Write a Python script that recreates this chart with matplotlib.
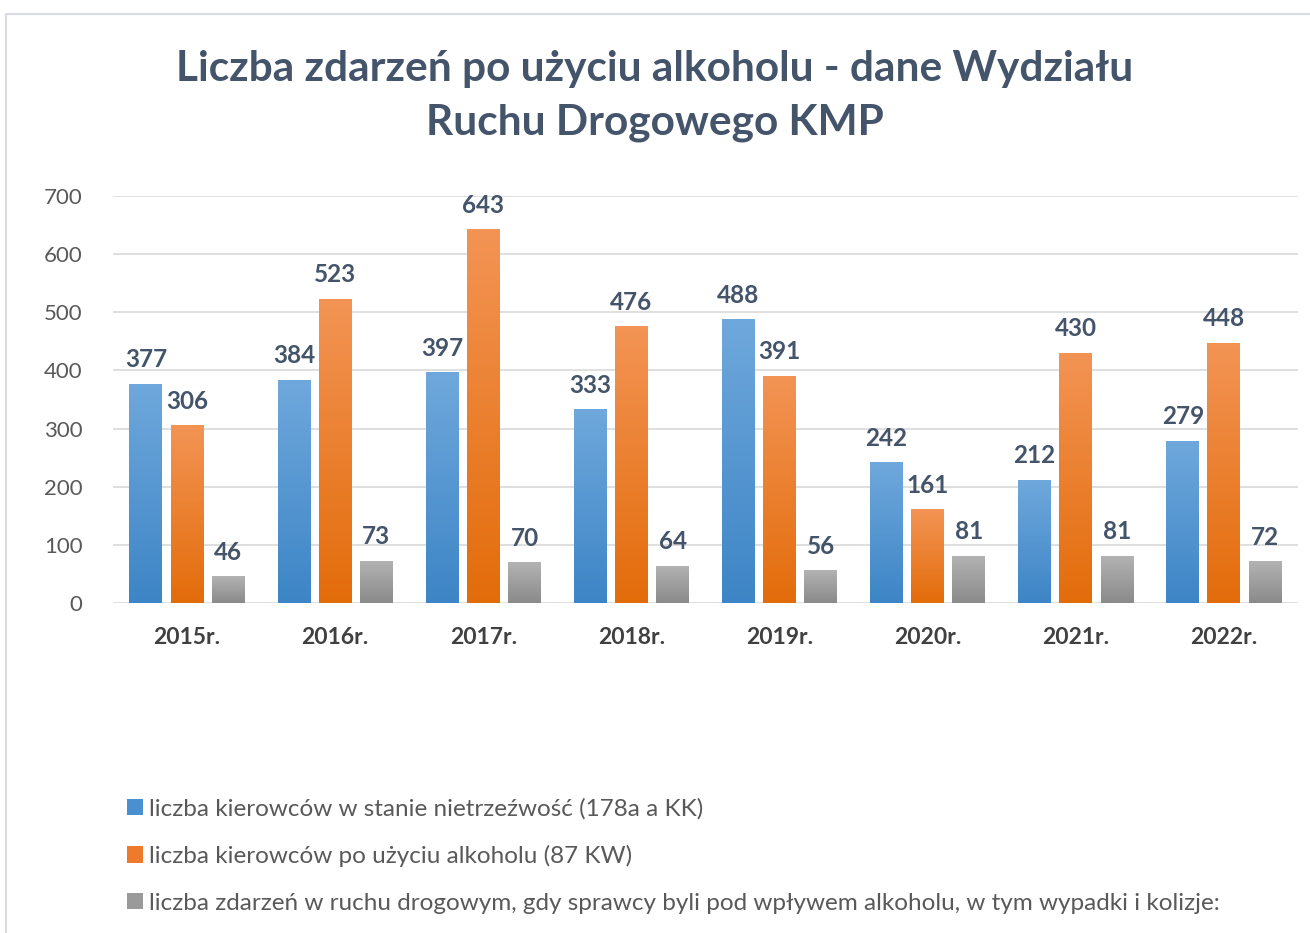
import numpy as np
import matplotlib.pyplot as plt
from matplotlib.patches import Rectangle, Patch

# dane
lata = ["2015r.", "2016r.", "2017r.", "2018r.", "2019r.", "2020r.", "2021r.", "2022r."]
nietrzezwi = [377, 384, 397, 333, 488, 242, 212, 279]
po_alkoholu = [306, 523, 643, 476, 391, 161, 430, 448]
zdarzenia = [46, 73, 70, 64, 56, 81, 81, 72]
nazwy = [
    "liczba kierowców w stanie nietrzeźwość (178a a KK)",
    "liczba kierowców po użyciu alkoholu (87 KW)",
    "liczba zdarzeń w ruchu drogowym, gdy sprawcy byli pod wpływem alkoholu, w tym wypadki i kolizje:",
]
tytul = "Liczba zdarzeń po użyciu alkoholu - dane Wydziału\nRuchu Drogowego KMP"

plt.rcParams['font.family'] = ['Lato', 'DejaVu Sans']

kolory = [("#6fa8dc", "#3d85c6"), ("#f39455", "#e36c0a"), ("#b3b3b3", "#8a8a8a")]
legend_kol = ["#4a8fd0", "#ee7a2c", "#9a9a9a"]

fig = plt.figure(figsize=(13.1, 9.33), dpi=100)
fig.patches.append(Rectangle((6 / 1310, -0.1), 1.2, 1 - 14 / 933 + 0.1,
                             transform=fig.transFigure, fill=False,
                             edgecolor="#d9dce3", lw=1.5))
ax = fig.add_axes([113 / 1310, 1 - 603 / 933, 1185 / 1310, 407 / 933])

x = np.arange(len(lata))
w = 0.222
offs = [-0.278, 0.0, 0.278]
serie = [nietrzezwi, po_alkoholu, zdarzenia]

grad = np.linspace(0, 1, 256).reshape(-1, 1)
for s, vals in enumerate(serie):
    bars = ax.bar(x + offs[s], vals, w, color="none", edgecolor="none", zorder=3)
    top, bot = kolory[s]
    cmap = plt.matplotlib.colors.LinearSegmentedColormap.from_list("g%d" % s, [bot, top])
    for b, v in zip(bars, vals):
        x0 = b.get_x()
        im = ax.imshow(grad, extent=[x0, x0 + w, 0, v], origin="lower", cmap=cmap,
                       aspect="auto", zorder=3)
        im.set_clip_path(b)
        ax.annotate(str(v), (x0 + w / 2, v), xytext=(0, 9), textcoords="offset points",
                    ha="center", va="bottom", fontsize=17.5, fontweight="bold",
                    color="#44546a", zorder=4)

ax.set_xlim(-0.5, len(lata) - 0.5)
ax.set_ylim(0, 700)
ax.set_yticks(range(0, 701, 100))
ax.grid(axis="y", color="#d9d9d9", lw=1.2, zorder=0)
for sp in ax.spines.values():
    sp.set_visible(False)
ax.tick_params(axis="both", length=0)
ax.tick_params(axis="y", labelsize=16, labelcolor="#595959", pad=22)
ax.set_xticks(x)
ax.set_xticklabels(lata, fontsize=16.5, fontweight="bold", color="#404040")
ax.tick_params(axis="x", pad=17)

fig.text(0.5, 1 - 96 / 933, tytul, ha="center", va="center", fontsize=30.5,
         fontweight="bold", color="#44546a", linespacing=1.5)

uchwyty = [Patch(facecolor=c, edgecolor="none") for c in legend_kol]
fig.legend(uchwyty, nazwy, loc="upper left", bbox_to_anchor=(105 / 1310, 1 - 776 / 933),
           frameon=False, fontsize=17.5, labelcolor="#595959", handlelength=0.65,
           handleheight=0.65, handletextpad=0.25, labelspacing=1.05)

fig.savefig("out.png", dpi=100)
